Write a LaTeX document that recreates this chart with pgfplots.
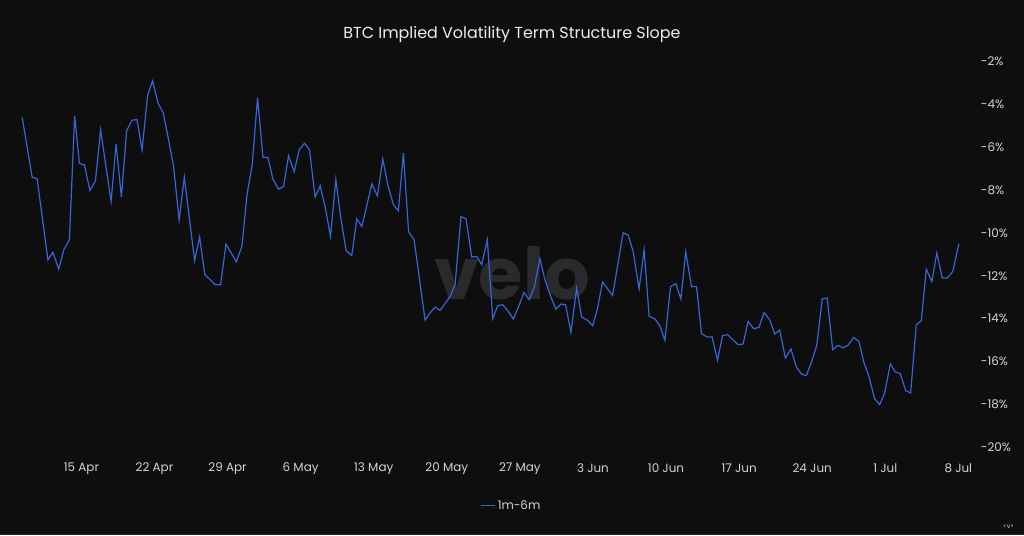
\documentclass[border=0pt]{standalone}
\usepackage{fontspec}
\setmainfont{Poppins}
\usepackage{pgfplots}
\pgfplotsset{compat=1.18}
\definecolor{bgc}{RGB}{14,14,15}
\definecolor{linec}{RGB}{56,100,212}
\definecolor{tickc}{RGB}{212,212,212}
\definecolor{titlec}{RGB}{238,238,238}
\definecolor{wmc}{RGB}{42,42,44}

\pgfplotstableread{
d v
9.33 -4.64
10.28 -7.41
10.76 -7.49
11.79 -11.26
12.27 -10.91
12.83 -11.69
13.31 -10.79
13.85 -10.33
14.35 -4.56
14.81 -6.77
15.29 -6.84
15.81 -8.03
16.34 -7.59
16.84 -5.21
17.84 -8.54
18.32 -5.87
18.83 -8.34
19.33 -5.25
19.85 -4.76
20.33 -4.73
20.81 -6.15
21.34 -3.60
21.82 -2.93
22.34 -3.97
22.83 -4.40
23.35 -5.67
23.83 -6.92
24.36 -9.40
24.86 -7.41
25.84 -11.30
26.32 -10.20
26.82 -11.95
27.34 -12.19
27.82 -12.42
28.33 -12.42
28.85 -10.53
29.35 -10.94
29.85 -11.35
30.38 -10.61
30.86 -8.23
31.36 -6.84
31.87 -3.72
32.39 -6.48
32.87 -6.50
33.34 -7.50
33.88 -7.97
34.36 -7.85
34.84 -6.42
35.38 -7.15
35.86 -6.14
36.37 -5.83
36.85 -6.14
37.39 -8.34
37.87 -7.81
38.35 -8.80
38.86 -10.17
39.37 -7.53
39.85 -9.32
40.36 -10.84
40.90 -11.06
41.38 -9.35
41.86 -9.71
42.82 -7.73
43.35 -8.28
43.87 -6.57
44.35 -7.77
44.89 -8.70
45.36 -8.98
45.84 -6.29
46.34 -9.95
46.87 -10.33
47.92 -14.07
48.40 -13.73
48.88 -13.46
49.35 -13.61
49.83 -13.30
50.31 -12.96
50.79 -12.42
51.36 -9.24
51.84 -9.36
52.39 -11.13
52.87 -11.10
53.34 -11.49
53.88 -10.33
54.40 -14.00
54.87 -13.40
55.35 -13.35
55.89 -13.66
56.37 -14.01
56.91 -13.40
57.39 -12.78
57.90 -13.12
58.38 -12.53
58.92 -11.21
59.40 -12.19
59.95 -12.96
60.45 -13.55
60.93 -13.32
61.38 -13.35
61.89 -14.64
62.44 -12.57
62.91 -13.92
63.49 -14.08
63.97 -14.33
64.41 -13.58
64.92 -12.29
65.88 -12.92
66.89 -10.00
67.37 -10.11
67.85 -10.87
68.42 -12.61
68.90 -10.79
69.38 -13.89
69.93 -14.01
70.41 -14.33
70.89 -15.01
71.43 -12.50
71.94 -12.37
72.42 -13.08
72.89 -10.90
73.44 -12.50
73.92 -12.50
74.40 -14.70
74.93 -14.85
75.41 -14.85
75.93 -15.94
76.41 -14.79
76.88 -14.74
77.90 -15.21
78.38 -15.18
78.86 -14.13
79.40 -14.47
79.91 -14.40
80.39 -13.71
80.93 -14.05
81.41 -14.71
81.89 -14.53
82.43 -15.83
82.96 -15.41
83.49 -16.26
83.97 -16.58
84.44 -16.65
84.92 -16.03
85.43 -15.27
85.96 -13.08
86.44 -13.04
86.96 -15.44
87.47 -15.24
87.95 -15.36
88.43 -15.24
88.97 -14.87
89.48 -15.06
89.96 -16.06
90.43 -16.68
90.98 -17.73
91.46 -18.00
91.94 -17.46
92.48 -16.11
92.96 -16.48
93.44 -16.56
93.95 -17.35
94.43 -17.46
94.97 -14.28
95.45 -14.09
95.93 -11.69
96.46 -12.27
96.94 -10.94
97.46 -12.11
97.94 -12.11
98.47 -11.80
99.05 -10.51
}\slope

\begin{document}
\begin{tikzpicture}
% background, 1024 x 536
\fill[bgc] (0,0) rectangle (1024bp,536bp);
\draw[draw=wmc, line width=1bp] (0,0.5bp) -- (1024bp,0.5bp);
% watermark
\node[text=wmc, font=\fontsize{72}{72}\selectfont\bfseries, inner sep=0pt] at (512bp,262bp) {velo};
\node[text=titlec, font=\fontsize{16}{19}\selectfont, inner sep=0pt] at (512bp,501bp) {BTC Implied Volatility Term Structure Slope};
\node[text=tickc, font=\fontsize{6.5}{8}\selectfont, inner sep=0pt] at (1009bp,9bp) {<v>};
\begin{axis}[
  at={(18.3bp,88bp)}, anchor=south west,
  scale only axis, width=950.95bp, height=387bp,
  xmin=9, xmax=100, ymin=-20, ymax=-2,
  axis line style={draw=none},
  major tick style={draw=none}, major tick length=0pt,
  /pgf/number format/assume math mode=true,
  xtick={15,22,...,99},
  xticklabels={15 Apr,22 Apr,29 Apr,6 May,13 May,20 May,27 May,3 Jun,10 Jun,17 Jun,24 Jun,1 Jul,8 Jul},
  ytick={-20,-18,...,-2},
  yticklabels={-20\%,-18\%,-16\%,-14\%,-12\%,-10\%,-8\%,-6\%,-4\%,-2\%},
  yticklabel pos=right,
  xticklabel style={text=tickc, font=\fontsize{12}{14}\selectfont, anchor=center, inner sep=0pt, yshift=-21bp},
  yticklabel style={text=tickc, font=\fontsize{12}{14}\selectfont, anchor=west, inner sep=0pt, xshift=12bp},
  legend style={at={(axis description cs:0.5186,-0.15)}, anchor=center, draw=none, fill=none,
    text=tickc, font=\fontsize{12}{14}\selectfont, inner sep=0pt},
  legend image code/.code={\draw[#1] (0bp,0bp) -- (14bp,0bp);},
]
\addplot[color=linec, line width=1.2bp] table[x=d, y=v] {\slope};
\addlegendentry{1m-6m}
\end{axis}
\end{tikzpicture}
\end{document}
